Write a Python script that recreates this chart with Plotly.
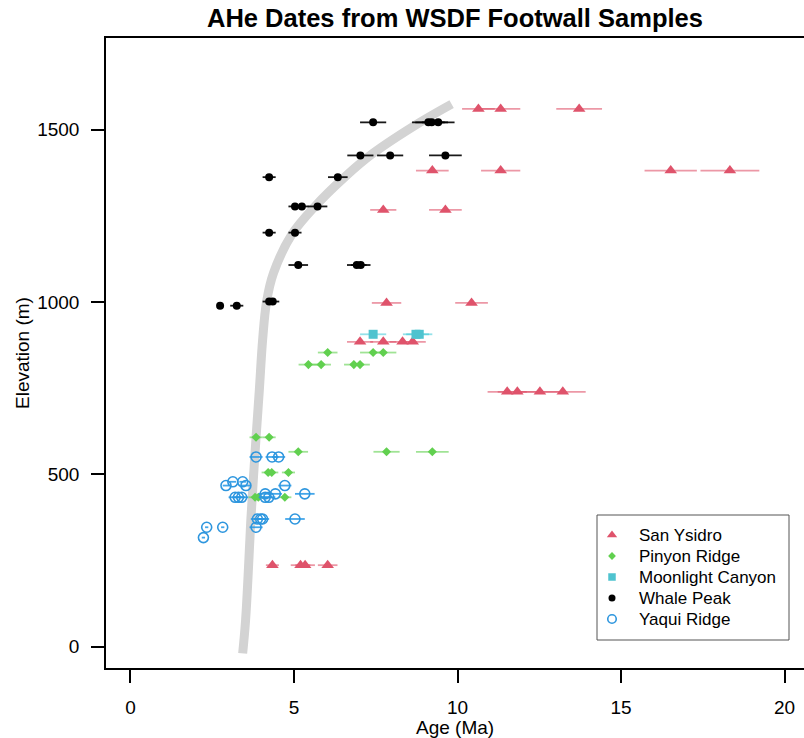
import plotly.graph_objects as go

# ---- AHe dates (Ma), elevations (m) and 1-sigma errors by sampling transect ----
sy_age = [10.64, 11.32, 13.72, 9.23, 11.32, 16.52, 18.33, 7.73, 9.63, 7.83, 10.43,
          7.02, 7.73, 8.32, 8.63, 11.52, 11.83, 12.52, 13.22, 4.34, 5.20, 5.34, 6.03]
sy_elev = [1560, 1560, 1560, 1381, 1381, 1381, 1381, 1267, 1267, 997, 997,
           884, 884, 884, 884, 739, 739, 739, 739, 236, 236, 236, 236]
sy_err = [0.5, 0.6, 0.7, 0.5, 0.6, 0.8, 0.9, 0.4, 0.5, 0.45, 0.5,
          0.4, 0.4, 0.4, 0.4, 0.6, 0.6, 0.6, 0.7, 0.2, 0.3, 0.3, 0.3]

pr_age = [6.03, 7.42, 7.73, 5.44, 5.83, 6.83, 7.02, 3.84, 4.24, 5.13, 7.83, 9.23,
          4.21, 4.32, 4.83, 3.81, 3.91, 4.72]
pr_elev = [853, 853, 853, 818, 818, 818, 818, 607, 607, 565, 565, 565,
           505, 505, 505, 433, 433, 433]
pr_err = [0.3, 0.4, 0.4, 0.3, 0.3, 0.3, 0.3, 0.2, 0.2, 0.3, 0.4, 0.5,
          0.2, 0.2, 0.2, 0.2, 0.2, 0.2]

mc_age = [7.42, 8.73, 8.83]
mc_elev = [906, 906, 906]
mc_err = [0.4, 0.4, 0.4]

wp_age = [7.42, 9.11, 9.21, 9.41, 7.03, 7.94, 9.63, 4.24, 6.34, 5.03, 5.24, 5.72,
          4.24, 5.03, 5.13, 6.92, 7.04, 4.24, 4.35, 2.74, 3.25]
wp_elev = [1521, 1521, 1521, 1521, 1425, 1425, 1425, 1362, 1362, 1277, 1277, 1277,
           1201, 1201, 1107, 1107, 1107, 1001, 1001, 989, 989]
wp_err = [0.4, 0.5, 0.5, 0.5, 0.4, 0.4, 0.5, 0.2, 0.3, 0.2, 0.2, 0.3,
          0.2, 0.2, 0.3, 0.3, 0.3, 0.2, 0.2, 0.05, 0.2]

yr_age = [3.84, 4.33, 4.53, 3.13, 3.43, 2.92, 3.53, 4.72, 4.12, 4.43, 5.33,
          3.20, 3.30, 3.40, 4.12, 4.23, 3.88, 3.98, 4.04, 5.03, 2.33, 2.82, 3.84, 2.23]
yr_elev = [550, 550, 550, 478, 478, 467, 467, 467, 443, 443, 443,
           433, 433, 433, 433, 433, 370, 370, 370, 370, 346, 346, 346, 316]
yr_err = [0.2, 0.2, 0.2, 0.1, 0.1, 0.1, 0.15, 0.2, 0.2, 0.2, 0.3,
          0.2, 0.2, 0.2, 0.2, 0.2, 0.2, 0.2, 0.2, 0.3, 0.05, 0.05, 0.2, 0.05]

# hand-drawn age-elevation trend
trend_age = [3.43, 3.52, 3.65, 3.68, 3.84, 3.94, 4.04, 4.16, 4.37, 4.93, 5.64,
             6.55, 7.40, 8.85, 9.82]
trend_elev = [-20, 77, 309, 367, 607, 744, 889, 1000, 1083, 1195, 1277,
              1362, 1430, 1521, 1574]

x_ticks = [0, 5, 10, 15, 20]
y_ticks = [0, 500, 1000, 1500]

FONT = "Liberation Sans, Arial, Helvetica, sans-serif"

# plot area in pixels
PL, PT, PW, PH = 106, 38, 698, 630

fig = go.Figure()

fig.add_trace(go.Scatter(
    x=trend_age, y=trend_elev, mode="lines", showlegend=False, hoverinfo="skip",
    line=dict(color="#d3d3d3", width=9, shape="spline", smoothing=1.0),
))

# name, data, marker style, error-bar colour, legend key size
series = [
    ("San Ysidro", sy_age, sy_elev, sy_err,
     dict(symbol="triangle-up", size=11, color="#df536b"), "rgba(223,83,107,0.6)", 9),
    ("Pinyon Ridge", pr_age, pr_elev, pr_err,
     dict(symbol="diamond", size=7, color="#61d04f"), "rgba(97,208,79,0.6)", 6),
    ("Moonlight Canyon", mc_age, mc_elev, mc_err,
     dict(symbol="square", size=9, color="#4fc3cf"), "rgba(60,200,215,0.55)", 7.5),
    ("Whale Peak", wp_age, wp_elev, wp_err,
     dict(symbol="circle", size=8, color="#000000"), "rgba(0,0,0,0.9)", 7),
    ("Yaqui Ridge", yr_age, yr_elev, yr_err,
     dict(symbol="circle-open", size=10, color="#2e96de", line=dict(width=1.6)),
     "rgba(34,151,230,0.85)", 8.5),
]

for name, ages, elevs, errs, marker, ecol, _ in series:
    fig.add_trace(go.Scatter(
        x=ages, y=elevs, mode="markers", name=name, marker=marker, showlegend=False,
        error_x=dict(type="data", array=errs, visible=True, width=0,
                     thickness=1.8, color=ecol),
    ))

# legend: keys drawn on an overlay axis measured in pixels from the plot's top-left
box_l, box_r, box_t, box_b = 597, 789, 515, 640
key_x, text_x = 612, 637
row_y = [535, 556, 577, 598, 619]

legend_keys = []
for (name, _, _, _, marker, _, key_size), ry in zip(series, row_y):
    key_marker = dict(marker, size=key_size)
    fig.add_trace(go.Scatter(
        x=[key_x - PL], y=[ry - PT], mode="markers", marker=key_marker,
        xaxis="x2", yaxis="y2", showlegend=False, hoverinfo="skip",
    ))
    legend_keys.append(dict(text=name, xref="x2", yref="y2", x=text_x - PL, y=ry - PT,
                            xanchor="left", yanchor="middle", showarrow=False,
                            font=dict(size=17, family=FONT)))

fig.update_layout(
    width=804, height=738,
    margin=dict(l=PL, r=0, t=PT, b=738 - PT - PH),
    paper_bgcolor="white", plot_bgcolor="white",
    font=dict(family=FONT, color="black", size=19),
    showlegend=False,
    xaxis=dict(range=[-0.749, 20.596], tickvals=x_ticks, ticks="outside", ticklen=13,
               tickwidth=1.5, tickcolor="black", showline=True, linecolor="black",
               linewidth=1.5, mirror=True, showgrid=False, zeroline=False,
               ticklabelstandoff=8, tickfont=dict(size=19)),
    yaxis=dict(range=[-62.4, 1765.8], tickvals=y_ticks, ticks="outside", ticklen=13,
               tickwidth=1.5, tickcolor="black", showline=True, linecolor="black",
               linewidth=1.5, mirror=False, showgrid=False, zeroline=False,
               ticklabelstandoff=8, tickfont=dict(size=19)),
    xaxis2=dict(range=[0, PW], overlaying="x", visible=False, fixedrange=True),
    yaxis2=dict(range=[PH, 0], overlaying="y", visible=False, fixedrange=True),
    shapes=[dict(type="rect", xref="paper", yref="paper",
                 x0=(box_l - PL) / PW, x1=(box_r - PL) / PW,
                 y0=(PT + PH - box_b) / PH, y1=(PT + PH - box_t) / PH,
                 line=dict(color="#555555", width=1), fillcolor="white", layer="below")],
    annotations=[
        dict(text="<b>AHe Dates from WSDF Footwall Samples</b>", xref="paper", yref="paper",
             x=0.5, y=1 + 20 / PH, xanchor="center", yanchor="middle", showarrow=False,
             font=dict(size=25.5, family=FONT)),
        dict(text="Age (Ma)", xref="paper", yref="paper", x=0.5, y=-59 / PH,
             xanchor="center", yanchor="middle", showarrow=False, font=dict(size=19)),
        dict(text="Elevation (m)", xref="paper", yref="paper", x=-84 / PW, y=0.5,
             xanchor="center", yanchor="middle", textangle=-90, showarrow=False,
             font=dict(size=19)),
    ] + legend_keys,
)

fig.write_html("out.html")
